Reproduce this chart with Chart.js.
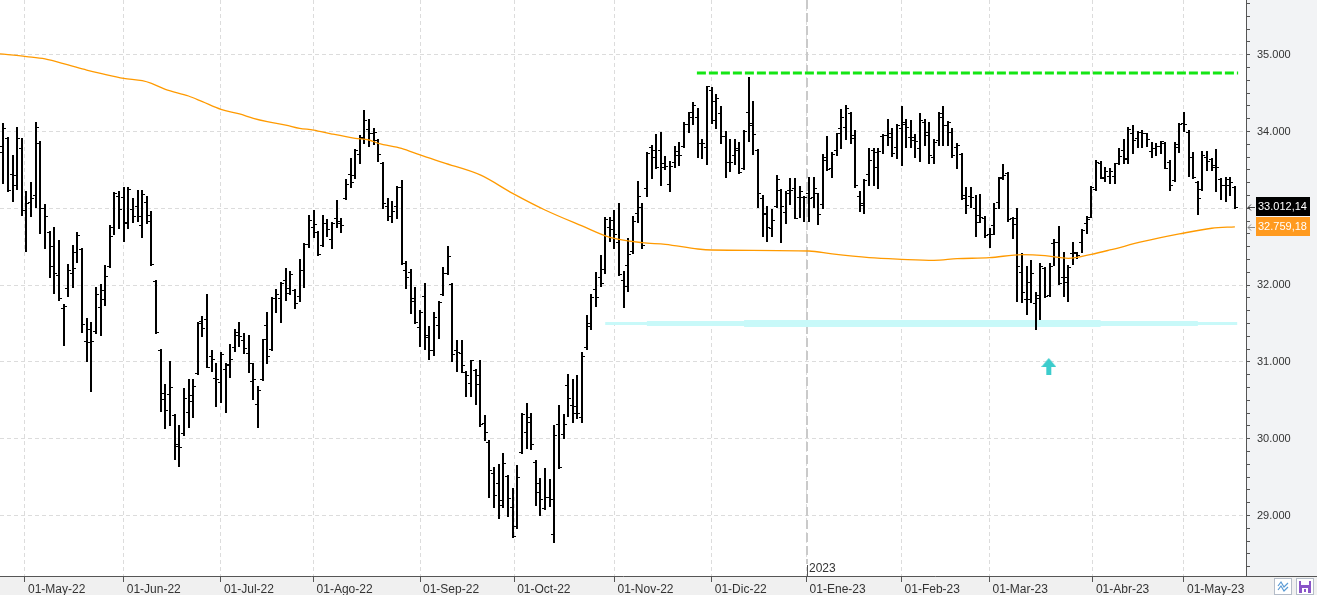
<!DOCTYPE html>
<html>
<head>
<meta charset="utf-8">
<title>DJIA diario</title>
<script src="https://cdn.jsdelivr.net/npm/chart.js@4.4.0/dist/chart.umd.min.js"></script>
<style>
  html, body { margin: 0; padding: 0; background: #fff; }
  canvas { display: block; }
</style>
</head>
<body>
<canvas id="chart" width="1317" height="595"></canvas>
<script>
// daily bars 22-Apr-2022 .. 16-May-2023, index = trading day
const opens = [
  34780, 33733, 33911, 33442, 33433, 33781, 32978, 33077, 33173, 33854,
  33004, 32691, 32509, 32131, 31697, 31958, 32153, 32426, 32466, 31272,
  31424, 31402, 31710, 31819, 32248, 32752, 33160, 33151, 32813, 32986,
  33030, 32782, 33086, 32834, 32053, 31155, 30591, 30578, 30309, 29905,
  30070, 30352, 30569, 30851, 31532, 31554, 31077, 30786, 30734, 30903,
  30955, 31190, 31350, 31285, 31111, 30751, 30452, 30777, 31476, 31163,
  31828, 31828, 32060, 31961, 31936, 31862, 32196, 32535, 32761, 32696,
  32522, 32804, 32600, 32869, 32804, 33130, 33442, 33433, 33707, 33911,
  34028, 33985, 33889, 33585, 33030, 32899, 33030, 33281, 32196, 32166,
  31828, 31450, 31858, 31350, 31155, 31480, 31880, 32153, 32014, 31150,
  31120, 30868, 30721, 30894, 30825, 30200, 29961, 29549, 29419, 29202,
  29514, 29115, 28863, 29822, 30083, 30213, 29701, 29419, 29093, 29237,
  28755, 30187, 30061, 30699, 30439, 30339, 30287, 31190, 31467, 31950,
  32110, 32205, 32761, 32848, 32566, 32067, 32262, 32449, 32935, 33021,
  33269, 33794, 33664, 33759, 33542, 33317, 33599, 33694, 33811, 34098,
  34258, 34193, 33855, 33794, 34540, 34150, 34237, 33941, 33607, 33694,
  33759, 33521, 34258, 34085, 33759, 33130, 32935, 32739, 33030, 33238,
  32956, 33238, 33260, 33152, 33143, 33195, 33152, 33195, 33056, 33672,
  33521, 33759, 34041, 34063, 34237, 33955, 33160, 33065, 33442, 33759,
  33534, 33941, 33955, 33933, 33803, 34041, 34128, 33933, 33889, 33781,
  34128, 33998, 33664, 33889, 34193, 34085, 33998, 33803, 33703, 33173,
  33160, 32999, 32913, 32870, 32666, 32783, 33087, 33412, 33455, 32869,
  32878, 32175, 31815, 32045, 31762, 31828, 32218, 31871, 32544, 32565,
  32101, 32036, 32413, 32422, 32557, 32804, 32891, 33247, 33594, 33390,
  33420, 33420, 33594, 33759, 33650, 33976, 33919, 33998, 33976, 33750,
  33781, 33811, 33854, 33607, 33368, 33802, 34106, 33998, 33672, 33346,
  33247, 33672, 33637, 33542, 33377, 33303, 33377, 33281
];
const highs = [
  34800, 34115, 33930, 33694, 34054, 33911, 33225, 33338, 34123, 33870,
  33056, 32700, 32761, 32587, 31760, 32275, 32522, 32696, 32480, 31567,
  31515, 31979, 32014, 32262, 32782, 33215, 33229, 33273, 33272, 33130,
  33238, 33238, 33160, 32965, 32070, 31170, 30708, 31012, 30320, 30178,
  30656, 30773, 30777, 31520, 31597, 31884, 31155, 30990, 31133, 30981,
  31233, 31428, 31515, 31372, 31350, 30981, 30686, 31300, 31645, 31841,
  31945, 32045, 32218, 32183, 31949, 32335, 32550, 32913, 32978, 32710,
  32913, 32856, 32826, 33108, 32878, 33377, 33650, 33767, 33954, 34280,
  34162, 34041, 33902, 33600, 33130, 33095, 33294, 33368, 32318, 32209,
  31979, 31676, 32032, 31467, 31654, 31793, 32240, 32513, 32030, 31285,
  31285, 30880, 31025, 30910, 31025, 30309, 29980, 29636, 29670, 29818,
  29530, 29362, 29658, 30339, 30469, 30339, 29720, 29493, 29623, 29471,
  30178, 30439, 30322, 30842, 30773, 30829, 31124, 31611, 31884, 32166,
  32392, 32891, 32891, 32978, 33065, 32184, 32609, 32900, 33360, 33073,
  33738, 33824, 33968, 33998, 33681, 33616, 33816, 33868, 34119, 34258,
  34380, 34302, 33898, 34592, 34584, 34488, 34332, 34011, 33898, 33898,
  33868, 34020, 34705, 34397, 33768, 33173, 33030, 32987, 33434, 33250,
  33230, 33390, 33390, 33290, 33160, 33403, 33412, 33204, 33707, 33941,
  33738, 33985, 34289, 34345, 34258, 34020, 33225, 33382, 33781, 33790,
  33781, 33968, 34158, 34050, 34093, 34332, 34158, 34150, 33968, 34245,
  34158, 34128, 33898, 34258, 34332, 34141, 34041, 33846, 33715, 33282,
  33282, 33173, 33182, 32904, 32739, 33073, 33412, 33573, 33470, 32891,
  33000, 32422, 32248, 32327, 31914, 32292, 32230, 32283, 32600, 32774,
  32435, 32262, 32557, 32435, 32726, 32900, 33290, 33629, 33610, 33542,
  33529, 33594, 33789, 33902, 34054, 34084, 34000, 34019, 33984, 33867,
  33854, 33880, 33867, 33629, 33859, 34106, 34249, 34019, 33737, 33355,
  33746, 33746, 33650, 33767, 33390, 33403, 33403, 33290
];
const lows = [
  33780, 33325, 33220, 33099, 33247, 32908, 32448, 32904, 33021, 32683,
  32479, 32110, 31893, 31806, 31224, 31862, 31971, 32305, 31394, 31016,
  30625, 31380, 31350, 31741, 32230, 32665, 32748, 32578, 32740, 32826,
  32839, 32630, 32813, 32260, 31380, 30365, 30144, 30183, 29740, 29649,
  30050, 30157, 30287, 30840, 31341, 30930, 30886, 30430, 30482, 30352,
  30799, 31146, 31211, 31111, 30864, 30512, 30148, 30760, 30981, 31150,
  31645, 31524, 31800, 31880, 31706, 31797, 31979, 32500, 32630, 32392,
  32510, 32643, 32487, 32761, 32696, 33120, 33281, 33390, 33585, 33846,
  33815, 33837, 33620, 33000, 32847, 32826, 32878, 32270, 31966, 31641,
  31500, 31211, 31172, 31042, 31090, 31315, 31870, 32140, 31016, 30886,
  30873, 30551, 30560, 30456, 30170, 29983, 29245, 29115, 28963, 29115,
  28998, 28716, 28840, 29810, 29883, 29866, 29137, 29007, 29080, 29124,
  28659, 29614, 30005, 30300, 30222, 30265, 30213, 31163, 31428, 31732,
  31992, 32153, 32578, 32479, 32130, 31719, 31928, 32423, 32826, 32479,
  33165, 33390, 33520, 33304, 33512, 33230, 33542, 33564, 33803, 33998,
  34098, 33664, 33651, 33577, 34115, 34041, 33846, 33412, 33490, 33577,
  33455, 33505, 33881, 33703, 33013, 32639, 32579, 32644, 33021, 32566,
  32813, 33056, 32870, 32891, 32839, 32839, 33021, 32796, 32999, 33499,
  33412, 33694, 33790, 33902, 33855, 33273, 32969, 32943, 33304, 33304,
  33269, 33724, 33824, 33681, 33651, 33564, 33803, 33794, 33672, 33620,
  33824, 33594, 33586, 33824, 33824, 33824, 33672, 33521, 33117, 32943,
  33021, 32639, 32817, 32631, 32501, 32666, 32999, 33377, 32839, 32609,
  31797, 31784, 31619, 31784, 31424, 31554, 31850, 31862, 32262, 32014,
  31862, 31797, 32270, 32348, 32435, 32683, 32880, 33235, 33390, 33360,
  33334, 33334, 33577, 33585, 33594, 33724, 33794, 33802, 33811, 33672,
  33694, 33715, 33520, 33238, 33355, 33728, 34010, 33420, 33390, 32926,
  33235, 33498, 33498, 33229, 33121, 33099, 33173, 33000
];
const closes = [
  33811, 34041, 33238, 33303, 33911, 32978, 33064, 33130, 34054, 33004,
  32895, 32248, 32153, 31828, 31728, 32196, 32218, 32648, 31489, 31263,
  31272, 31884, 31936, 32118, 32643, 33203, 32991, 32817, 33248, 32899,
  32904, 33182, 32913, 32270, 31394, 30512, 30374, 30677, 29931, 29888,
  30526, 30491, 30686, 31511, 31437, 30938, 31033, 30773, 31098, 30972,
  31038, 31385, 31337, 31177, 30981, 30773, 30634, 31294, 31077, 31828,
  31884, 32032, 31899, 32145, 31771, 32196, 32531, 32847, 32791, 32400,
  32804, 32726, 32813, 32834, 32782, 33316, 33336, 33759, 33932, 34149,
  33985, 33997, 33707, 33064, 32904, 32965, 33281, 32283, 32110, 31793,
  31515, 31654, 31320, 31155, 31580, 31780, 32153, 32379, 31098, 31135,
  30955, 30829, 31020, 30708, 30187, 30083, 29592, 29267, 29137, 29679,
  29224, 28733, 29497, 30317, 30287, 29931, 29302, 29215, 29237, 29215,
  30048, 29636, 30187, 30526, 30426, 30330, 31081, 31502, 31841, 31839,
  32032, 32860, 32735, 32666, 32145, 31988, 32405, 32835, 33160, 32522,
  33716, 33759, 33534, 33594, 33555, 33547, 33746, 33698, 34098, 34193,
  34345, 33850, 33855, 34588, 34393, 34432, 33946, 33599, 33599, 33781,
  33477, 34007, 34106, 33968, 33204, 32922, 32757, 32852, 33377, 33026,
  33204, 33243, 32878, 33221, 33147, 33134, 33269, 32930, 33629, 33516,
  33703, 33976, 34189, 34302, 33911, 33299, 33043, 33373, 33629, 33733,
  33742, 33950, 33976, 33716, 34085, 34093, 34054, 33924, 33881, 34154,
  33950, 33698, 33868, 34245, 34089, 34128, 33698, 33829, 33130, 33043,
  33152, 32817, 32887, 32657, 32661, 33004, 33390, 33429, 32856, 32800,
  32253, 31910, 31819, 32153, 31875, 32248, 31862, 32248, 32561, 32032,
  32105, 32240, 32431, 32396, 32717, 32860, 33273, 33598, 33403, 33481,
  33485, 33585, 33685, 33646, 34028, 33889, 33989, 33976, 33898, 33789,
  33811, 33876, 33529, 33299, 33837, 34097, 34093, 33672, 33412, 33130,
  33694, 33620, 33564, 33533, 33307, 33303, 33347, 33012.14
];

// moving average at these bar indexes
const maIdx = [0, 6, 10, 15, 19, 22, 27, 31, 33, 36, 41, 44, 48, 52, 55, 58, 62, 65, 68, 72,
  77, 80, 82, 87, 91, 96, 104, 111, 118, 126, 132, 139, 144, 151, 154, 175, 180, 188, 195, 202,
  207, 214, 221, 226, 231, 236, 240, 247, 255, 262, 267];
const maVal = [35012, 34974, 34944, 34866, 34800, 34757, 34692, 34662, 34627, 34549, 34462, 34388,
  34288, 34228, 34171, 34128, 34084, 34041, 34019, 33967, 33911, 33889, 33846, 33780, 33694, 33594,
  33434, 33195, 32978, 32770, 32622, 32552, 32531, 32470, 32457, 32444, 32405, 32357, 32336, 32323,
  32344, 32357, 32396, 32383, 32349, 32401, 32457, 32565, 32666, 32740, 32759.18];

// month ticks (first of month, between bars when it falls on a weekend)
const monthIdx = [5.67, 27, 48, 68, 91, 111.33, 133, 154, 174.5, 195, 214, 236.33, 256];
const monthLabels = ['01-May-22', '01-Jun-22', '01-Jul-22', '01-Ago-22', '01-Sep-22', '01-Oct-22',
  '01-Nov-22', '01-Dic-22', '01-Ene-23', '01-Feb-23', '01-Mar-23', '01-Abr-23', '01-May-23'];
const yearIdx = 174.5;
const yearLabel = '2023';

// drawn levels
const resistanceLevel = 34760;
const resistanceFrom = 150.8, resistanceTo = 267.7;
const supportLevel = 31500;
const supportFrom = [131, 140, 161];
const supportTo = [267.5, 259, 238];
const signalIdx = 226.8, signalValue = 30940;

const xMin = 0.28, xMax = 269.4;
const yMin = 28212, yMax = 35712;
const yStep = 1000 / 6;

function fmt(v, dec) {
  const parts = v.toFixed(dec).split('.');
  const int = parts[0].replace(/\B(?=(\d{3})+(?!\d))/g, '.');
  return parts[1] ? int + ',' + parts[1] : int;
}
const isMajor = v => Math.abs(v / 1000 - Math.round(v / 1000)) < 1e-6;

// up arrow used as point style
const arrowImg = document.createElement('canvas');
arrowImg.width = 15; arrowImg.height = 17;
(function () {
  const a = arrowImg.getContext('2d');
  a.fillStyle = '#3ccccc';
  a.beginPath(); a.moveTo(7.5, 0); a.lineTo(15, 9); a.lineTo(0, 9); a.closePath(); a.fill();
  a.fillRect(5, 9, 5, 8);
})();

const ohlcBars = {
  id: 'ohlcBars',
  afterDatasetDraw(chart, args) {
    if (chart.data.datasets[args.index].label !== 'DJIA') return;
    const { ctx, chartArea: a, scales: { x, y } } = chart;
    ctx.save();
    ctx.beginPath();
    ctx.rect(a.left, a.top, a.right - a.left, a.bottom - a.top);
    ctx.clip();
    ctx.fillStyle = '#000';
    closes.forEach((c, i) => {
      const px = Math.round(x.getPixelForValue(i));
      const yh = Math.round(y.getPixelForValue(highs[i]));
      const yl = Math.round(y.getPixelForValue(lows[i]));
      ctx.fillRect(px - 1, yh, 2, yl - yh + 1);
      ctx.fillRect(px - 3, Math.round(y.getPixelForValue(opens[i])), 2, 1);
      ctx.fillRect(px + 1, Math.round(y.getPixelForValue(c)), 2, 1);
    });
    ctx.restore();
  }
};

const frame = {
  id: 'frame',
  beforeDraw(chart) {
    const { ctx, chartArea: a, width, height } = chart;
    ctx.save();
    ctx.fillStyle = '#fff';
    ctx.fillRect(0, 0, width, height);
    ctx.fillStyle = '#f2f3f5';
    ctx.fillRect(a.right, 0, width - a.right, height);
    ctx.fillStyle = '#f0f0f0';
    ctx.fillRect(0, a.bottom, width, height - a.bottom);
    ctx.restore();
  },
  beforeDatasetsDraw(chart) {
    const { ctx, chartArea: a, scales: { x } } = chart;
    const px = Math.round(x.getPixelForValue(yearIdx));
    ctx.save();
    ctx.strokeStyle = '#cacaca';
    ctx.lineWidth = 2;
    ctx.setLineDash([9, 4]);
    ctx.beginPath(); ctx.moveTo(px, a.top); ctx.lineTo(px, a.bottom - 12); ctx.stroke();
    ctx.setLineDash([]);
    ctx.strokeStyle = '#555';
    ctx.lineWidth = 1;
    ctx.beginPath(); ctx.moveTo(px + 0.5, a.bottom - 11); ctx.lineTo(px + 0.5, a.bottom); ctx.stroke();
    ctx.fillStyle = '#333';
    ctx.font = "12px 'Liberation Sans', Arial, sans-serif";
    ctx.textBaseline = 'middle';
    ctx.fillText(yearLabel, px + 2, a.bottom - 7);
    ctx.restore();
  },
  afterDraw(chart) {
    const { ctx, chartArea: a, width, scales: { y } } = chart;
    ctx.save();
    // axis line carried on under the price panel
    ctx.fillStyle = '#555';
    ctx.fillRect(a.right, Math.round(a.bottom), width - a.right, 1);

    const tag = (value, text, bg, arrow) => {
      const py = Math.round(y.getPixelForValue(value));
      ctx.fillStyle = bg;
      ctx.fillRect(a.right + 10, py - 10, 54, 19);
      ctx.fillStyle = '#fff';
      ctx.font = "11px 'Liberation Sans', Arial, sans-serif";
      ctx.textBaseline = 'middle';
      ctx.textAlign = 'left';
      ctx.fillText(text, a.right + 12, py);
      ctx.strokeStyle = arrow;
      ctx.lineWidth = 1;
      ctx.beginPath();
      ctx.moveTo(a.right + 2, py + 0.5); ctx.lineTo(a.right + 9, py + 0.5);
      ctx.moveTo(a.right + 5, py - 2.5); ctx.lineTo(a.right + 2, py + 0.5); ctx.lineTo(a.right + 5, py + 3.5);
      ctx.stroke();
    };
    const lastClose = closes[closes.length - 1];
    const lastMa = maVal[maVal.length - 1];
    tag(lastClose, fmt(lastClose, 2), '#000', '#444');
    tag(lastMa, fmt(lastMa, 2), '#ff9a1f', '#888');

    // the two little buttons in the corner
    const bx = width - 43, by = Math.round(a.bottom) + 2;
    ctx.fillStyle = '#fff';
    ctx.fillRect(bx, by, 18, 17);
    ctx.fillRect(bx + 22, by, 18, 17);
    ctx.strokeStyle = '#b4bcc8';
    ctx.strokeRect(bx + 0.5, by + 0.5, 17, 16);
    ctx.strokeRect(bx + 22.5, by + 0.5, 17, 16);
    ctx.strokeStyle = '#5b9bd5';
    ctx.lineWidth = 1.2;
    ctx.beginPath();
    ctx.moveTo(bx + 4, by + 8); ctx.lineTo(bx + 7, by + 4); ctx.lineTo(bx + 10, by + 9); ctx.lineTo(bx + 14, by + 5);
    ctx.moveTo(bx + 4, by + 12); ctx.lineTo(bx + 7, by + 8); ctx.lineTo(bx + 10, by + 13); ctx.lineTo(bx + 14, by + 9);
    ctx.stroke();
    ctx.fillStyle = '#8a55c8';
    ctx.fillRect(bx + 25, by + 3, 12, 12);
    ctx.fillStyle = '#fff';
    ctx.fillRect(bx + 27, by + 3, 8, 4);
    ctx.fillRect(bx + 28, by + 10, 6, 5);
    ctx.fillStyle = '#8a55c8';
    ctx.fillRect(bx + 30, by + 11, 2, 3);
    ctx.restore();
  }
};

Chart.defaults.font.family = "'Liberation Sans', Arial, sans-serif";
Chart.defaults.color = '#333';

const supportSets = supportFrom.map((from, k) => ({
  label: 'Soporte ' + (k + 1),
  data: [{ x: from, y: supportLevel }, { x: supportTo[k], y: supportLevel }],
  borderColor: '#c8f9f9',
  borderWidth: [3, 5, 7][k],
  borderCapStyle: 'butt',
  pointRadius: 0,
  order: 4
}));

new Chart(document.getElementById('chart'), {
  type: 'line',
  data: {
    datasets: [
      {
        label: 'Señal',
        data: [{ x: signalIdx, y: signalValue }],
        showLine: false,
        pointStyle: arrowImg,
        pointRadius: 8,
        order: 0
      },
      {
        label: 'Resistencia',
        data: [{ x: resistanceFrom, y: resistanceLevel }, { x: resistanceTo, y: resistanceLevel }],
        borderColor: '#14e614',
        borderWidth: 3,
        borderDash: [9, 3],
        borderCapStyle: 'butt',
        pointRadius: 0,
        order: 1
      },
      {
        label: 'Media móvil',
        data: maIdx.map((i, k) => ({ x: i, y: maVal[k] })),
        borderColor: '#ff9a00',
        borderWidth: 1.3,
        cubicInterpolationMode: 'monotone',
        pointRadius: 0,
        order: 2
      },
      {
        label: 'DJIA',
        data: closes.map((c, i) => ({ x: i, y: c })),
        showLine: false,
        pointRadius: 0,
        order: 3
      },
      ...supportSets
    ]
  },
  options: {
    responsive: false,
    animation: false,
    devicePixelRatio: 1,
    events: [],
    layout: { padding: 0, autoPadding: false },
    plugins: { legend: { display: false }, tooltip: { enabled: false } },
    scales: {
      x: {
        type: 'linear',
        min: xMin,
        max: xMax,
        afterBuildTicks: s => { s.ticks = monthIdx.map(v => ({ value: v })); },
        ticks: {
          autoSkip: false,
          maxRotation: 0,
          minRotation: 0,
          align: 'start',
          labelOffset: 3,
          padding: 0,
          font: { size: 12 },
          color: '#333',
          callback: (v, i) => monthLabels[i]
        },
        grid: { color: '#dcdcdc', tickColor: '#555', tickLength: 6 },
        border: { color: '#555', width: 1, dash: [4, 3] },
        afterFit: s => { s.height = 19; s.paddingLeft = 0; s.paddingRight = 0; }
      },
      y: {
        position: 'right',
        min: yMin,
        max: yMax,
        afterBuildTicks: s => {
          const t = [];
          for (let v = Math.ceil(s.min / yStep) * yStep; v <= s.max; v += yStep) t.push({ value: v });
          s.ticks = t;
        },
        ticks: {
          autoSkip: false,
          padding: 7,
          font: { size: 11 },
          color: '#333',
          callback: v => isMajor(v) ? fmt(Math.round(v), 0) : ''
        },
        grid: {
          color: c => (c.tick && isMajor(c.tick.value)) ? '#dcdcdc' : 'rgba(0,0,0,0)',
          tickColor: '#555',
          tickLength: 4
        },
        border: { color: '#555', width: 1, dash: [4, 3] },
        afterFit: s => { s.width = 71; s.paddingTop = 0; s.paddingBottom = 0; }
      }
    }
  },
  plugins: [frame, ohlcBars]
});
</script>
</body>
</html>
